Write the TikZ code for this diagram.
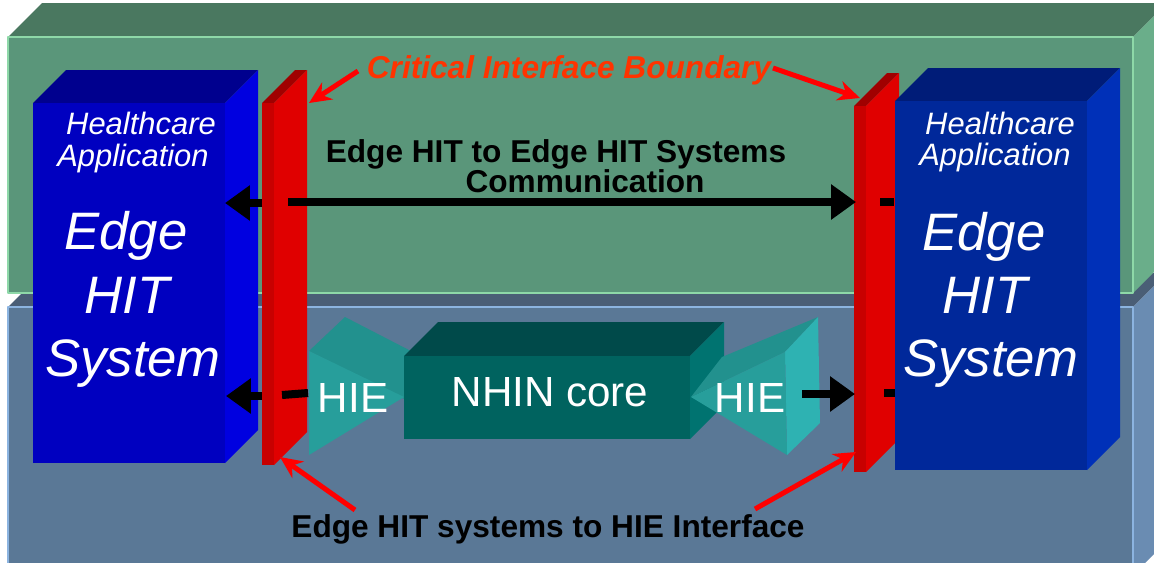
\documentclass[tikz,border=0pt]{standalone}
\usepackage{fontspec}
\setmainfont{Liberation Sans}
\usepackage{tikz}
\usetikzlibrary{arrows.meta}

\definecolor{grnfront}{HTML}{5A967A}
\definecolor{grntop}{HTML}{4A7860}
\definecolor{grnside}{HTML}{6AAE8A}
\definecolor{grnline}{HTML}{8ED8A8}
\definecolor{slfront}{HTML}{5A7896}
\definecolor{sltop}{HTML}{4A5E76}
\definecolor{slside}{HTML}{6A8CB2}
\definecolor{slline}{HTML}{8CB4E0}
\definecolor{lbfront}{HTML}{0000C0}
\definecolor{lbtop}{HTML}{00008E}
\definecolor{lbside}{HTML}{0000E0}
\definecolor{rbfront}{HTML}{00289A}
\definecolor{rbtop}{HTML}{001C78}
\definecolor{rbside}{HTML}{0030B8}
\definecolor{barfront}{HTML}{C80000}
\definecolor{bartop}{HTML}{A00000}
\definecolor{barside}{HTML}{E00000}
\definecolor{corefront}{HTML}{00635F}
\definecolor{coretop}{HTML}{004A4A}
\definecolor{coreside}{HTML}{007370}
\definecolor{hiefront}{HTML}{279E9B}
\definecolor{hietop}{HTML}{22918E}
\definecolor{hieside}{HTML}{2EB2B2}
\definecolor{critred}{HTML}{FF3300}

% front x1 y1 x2 y2, depth, front / top / side styles
\newcommand{\drawblock}[8]{%
  \path[#7] (#1,#2) -- (#1+#5,#2-#5) -- (#3+#5,#2-#5) -- (#3,#2) -- cycle;
  \path[#8] (#3,#2) -- (#3+#5,#2-#5) -- (#3+#5,#4-#5) -- (#3,#4) -- cycle;
  \path[#6] (#1,#2) rectangle (#3,#4);}

\begin{document}
\begin{tikzpicture}[x=0.02cm,y=-0.02cm,line join=round,
                    >={Triangle[length=0.5cm,width=0.68cm]}]
  \tikzstyle{flow}=[->,line width=0.16cm,black]
  \tikzstyle{stub}=[line width=0.16cm,black]
  \tikzstyle{pointer}=[-{Stealth[length=0.44cm,width=0.4cm]},line width=0.1cm,red]
  \tikzstyle{hc}=[text=white,font=\fontsize{17.6}{19}\selectfont\itshape,anchor=base,inner sep=0pt]
  \tikzstyle{big}=[text=white,font=\fontsize{30}{34}\selectfont\itshape,anchor=base,inner sep=0pt]
  \tikzstyle{lbl}=[font=\fontsize{18}{20}\selectfont\bfseries,anchor=base,inner sep=0pt]
  \tikzstyle{core}=[text=white,font=\fontsize{24}{28}\selectfont,anchor=base,inner sep=0pt]

  \useasboundingbox (0,0) rectangle (1154,562);
  \clip (0,0) rectangle (1154,562);

  \drawblock{8}{307}{1133}{575}{34}{fill=slfront,draw=slline,line width=1pt}{fill=sltop}{fill=slside}
  \drawblock{8}{37}{1133}{293}{34}{fill=grnfront,draw=grnline,line width=1pt}{fill=grntop}{fill=grnside}

  \drawblock{33}{103}{225}{463}{33}{fill=lbfront}{fill=lbtop}{fill=lbside}
  \drawblock{262}{103}{274}{465}{33}{fill=barfront}{fill=bartop}{fill=barside}
  \drawblock{854}{106}{866}{472}{33}{fill=barfront}{fill=bartop}{fill=barside}
  \drawblock{895}{101}{1087}{470}{33}{fill=rbfront}{fill=rbtop}{fill=rbside}

  \fill[hietop] (309,351) -- (345,317) -- (440,366) -- (404,399) -- cycle;
  \fill[hiefront] (309,351) -- (404,397) -- (309,455) -- cycle;
  \drawblock{404}{356}{690}{439}{34}{fill=corefront}{fill=coretop}{fill=coreside}
  \fill[hietop] (691,397) -- (722,357) -- (818,317) -- (785,352) -- cycle;
  \fill[hieside] (785,352) -- (818,317) -- (820,423) -- (787,455) -- cycle;
  \fill[hiefront] (691,397) -- (785,352) -- (787,455) -- cycle;

  \coordinate (T1) at (262,203);
  \coordinate (T2) at (225,203);
  \coordinate (T3) at (288,202);
  \coordinate (T4) at (856,202);
  \coordinate (T5) at (880,202);
  \coordinate (T6) at (894,202);
  \coordinate (B1) at (262,396);
  \coordinate (B2) at (226,396);
  \coordinate (B3) at (282,395);
  \coordinate (B4) at (308,393);
  \coordinate (B5) at (802,394);
  \coordinate (B6) at (855,394);
  \coordinate (B7) at (884,393);
  \coordinate (B8) at (895,393);

  \draw[flow] (T1) -- (T2);
  \draw[flow] (T3) -- (T4);
  \draw[stub] (T5) -- (T6);
  \draw[flow] (B1) -- (B2);
  \draw[stub] (B3) -- (B4);
  \draw[flow] (B5) -- (B6);
  \draw[stub] (B7) -- (B8);

  \node[lbl,text=critred,font=\fontsize{18}{20}\selectfont\bfseries\itshape] (crit) at (569,78) {Critical Interface Boundary};
  \node[lbl] (comm1) at (556,162) {Edge HIT to Edge HIT Systems};
  \node[lbl] (comm2) at (585,192) {Communication};
  \node[lbl] (iface) at (548,537) {Edge HIT systems to HIE Interface};

  \coordinate (P1) at (358,71);
  \coordinate (P2) at (309,103);
  \coordinate (P3) at (773,68);
  \coordinate (P4) at (860,98);
  \coordinate (P5) at (355,510);
  \coordinate (P6) at (280,457);
  \coordinate (P7) at (755,509);
  \coordinate (P8) at (856,452);
  \draw[pointer] (P1) -- (P2);
  \draw[pointer] (P3) -- (P4);
  \draw[pointer] (P5) -- (P6);
  \draw[pointer] (P7) -- (P8);

  \node[hc] (hcL) at (141,134) {Healthcare};
  \node[hc] (apL) at (133,166) {Application};
  \node[big] (eL) at (126,249) {Edge};
  \node[big] (hL) at (127,313) {HIT};
  \node[big] (sL) at (133,376) {System};
  \node[hc] (hcR) at (1000,134) {Healthcare};
  \node[hc] (apR) at (995,165) {Application};
  \node[big] (eR) at (984,250) {Edge};
  \node[big] (hR) at (985,313) {HIT};
  \node[big] (sR) at (991,376) {System};

  \node[core] (hieL) at (353,412) {HIE};
  \node[core] (core) at (550,406) {NHIN core};
  \node[core] (hieR) at (750,412) {HIE};
\end{tikzpicture}
\end{document}
